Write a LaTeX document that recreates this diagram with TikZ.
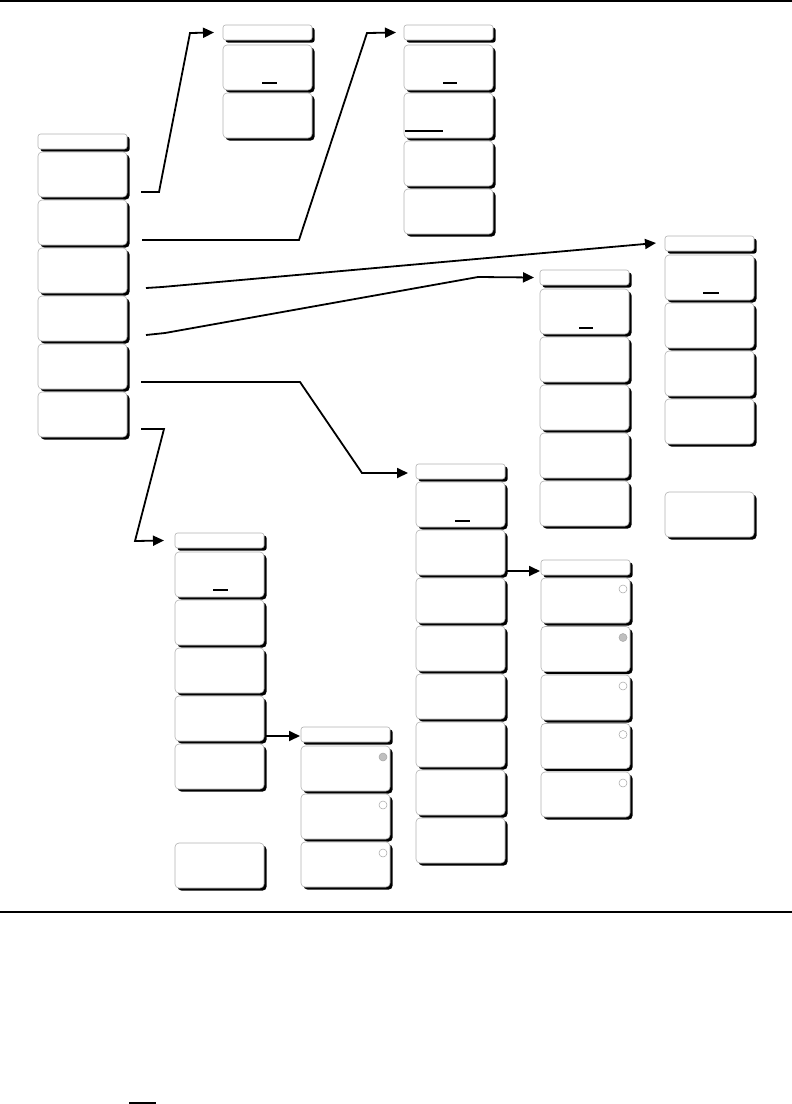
\documentclass[tikz,border=0pt]{standalone}
\usetikzlibrary{arrows.meta,shadows,calc}
\tikzset{
  btnbase/.style={draw=gray!60, line width=0.6pt, fill=white, rounded corners=4pt,
    minimum width=89pt, anchor=north west, inner sep=0pt, outer sep=0pt,
    drop shadow={shadow xshift=2.6pt, shadow yshift=-2.6pt, fill=black, opacity=1}},
  btn/.style={btnbase, minimum height=45pt},
  hdr/.style={btnbase, minimum height=15pt, rounded corners=2.5pt},
  conn/.style={line width=1.8pt, line join=miter, -{Triangle[length=11pt,width=10pt]}},
  uline/.style={line width=1.1pt},
  radio/.style={circle, draw=gray!70, line width=0.5pt, fill=white, minimum size=8pt, inner sep=0pt},
  radioon/.style={radio, fill=gray!50},
  rule/.style={line width=1.4pt}
}
\newcommand{\menucol}[6]{%
  \node[hdr] (#1h) at (#2,#3) {};
  \foreach \k in {1,...,#5}{
    \node[btn] (#1\k) at ({#2},{#4+(\k-1)*#6}) {};
  }%
}
\begin{document}
\begin{tikzpicture}[x=1pt,y=-1pt]
\useasboundingbox (0,0) rectangle (792,1104);
% rules
\coordinate (tl) at (0,1); \coordinate (tr) at (792,1);
\draw[line width=2pt] (tl) -- (tr);
\coordinate (bl) at (0,912); \coordinate (br) at (792,912);
\draw[rule] (bl) -- (br);
\coordinate (ol) at (129,1103); \coordinate (or) at (156,1103);
\draw[uline] (ol) -- (or);

% columns
\menucol{m}{38}{134}{152}{6}{48}
\menucol{a}{223}{25}{45}{2}{48}
\menucol{b}{404}{25}{45}{4}{48}
\menucol{c}{665}{236}{255}{4}{48}
\node[btn] (c5) at (665,492) {};
\menucol{d}{540}{270}{289}{5}{48}
\menucol{e}{416}{464}{482}{8}{48}
\menucol{f}{541}{560}{578}{5}{48.5}
\menucol{g}{175}{533}{552}{5}{48}
\node[btn] (g6) at (175,843) {};
\menucol{h}{301}{727}{746}{3}{48}

% underlines
\draw[uline] ($(a1.north west)+(39,38)$) -- +(15,0);
\draw[uline] ($(b1.north west)+(39,38)$) -- +(14,0);
\draw[uline] ($(b2.north west)+(1,38)$) -- +(38,0);
\draw[uline] ($(c1.north west)+(38,38)$) -- +(16,0);
\draw[uline] ($(d1.north west)+(39,39)$) -- +(14,0);
\draw[uline] ($(e1.north west)+(39,39)$) -- +(15,0);
\draw[uline] ($(g1.north west)+(38,38)$) -- +(15,0);

% radio indicators
\foreach \k in {1,3,4,5}{ \node[radio] (fr\k) at ($(f\k.north east)+(-7,11)$) {}; }
\node[radioon] (fr2) at ($(f2.north east)+(-7,11)$) {};
\node[radioon] (hr1) at ($(h1.north east)+(-7,11)$) {};
\foreach \k in {2,3}{ \node[radio] (hr\k) at ($(h\k.north east)+(-7,11)$) {}; }

% connector start points
\coordinate (s1) at (141,192);
\coordinate (s2) at (142,240);
\coordinate (s3) at (146,288);
\coordinate (s4) at (146,335);
\coordinate (s5) at (141,382);
\coordinate (s6) at (141,429);
\coordinate (ep) at ([xshift=2pt,yshift=4pt]e2.south east);
\coordinate (gp) at ([xshift=2pt,yshift=5pt]g4.south east);

\draw[conn] (s1) -- (159,192) -- (190,33) -- ([xshift=-9pt]ah.west);
\draw[conn] (s2) -- (299,240) -- (367,33) -- ([xshift=-8pt]bh.west);
\draw[conn] (s3) -- (162,287) -- ([xshift=-9pt,yshift=0.5pt]ch.west);
\draw[conn] (s4) -- (165,333) -- (478,277) -- ([xshift=-6pt]dh.west);
\draw[conn] (s5) -- (300,382) -- (362,473) -- ([xshift=-8pt,yshift=-1.5pt]eh.west);
\draw[conn] (s6) -- (164,429) -- (135,541) -- ([xshift=-11pt]gh.west);
\draw[conn] (ep) -- ([xshift=-1pt]ep -| fh.west);
\draw[conn] (gp) -- ([xshift=-1pt]gp -| hh.west);
\end{tikzpicture}
\end{document}
